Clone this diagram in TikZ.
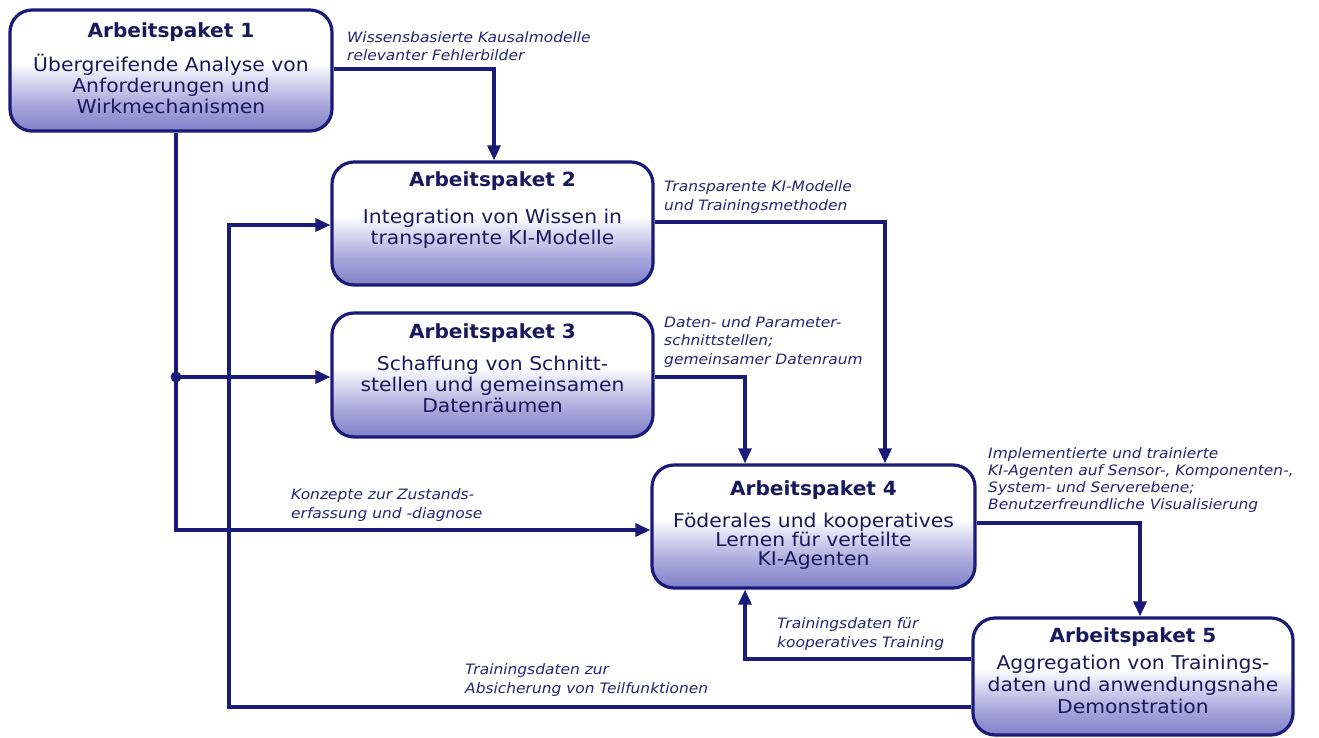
\documentclass[tikz,border=0pt]{standalone}
\usepackage{fontspec}
\setmainfont{DejaVu Sans}
\newfontfamily\aptitlefont{DejaVu Sans Bold}[FakeStretch=1.03]
\newfontfamily\apbodyfont{DejaVu Sans}[FakeStretch=1.07]
\newfontfamily\aplabelfont{DejaVu Sans Oblique}[FakeStretch=1.08]
\usetikzlibrary{arrows.meta}

\definecolor{apline}{RGB}{26,26,120}
\definecolor{aptext}{RGB}{24,24,92}
\definecolor{aplabel}{RGB}{36,36,116}
\definecolor{apB}{RGB}{128,128,200}
\definecolor{apC}{RGB}{168,168,220}
\definecolor{apM}{RGB}{222,222,243}

% box fill: white upper half fading into lavender at the bottom
\pgfdeclareverticalshading{apshade}{100bp}{color(0bp)=(apB); color(25bp)=(apB); color(36bp)=(apC); color(47bp)=(apM); color(53bp)=(white); color(100bp)=(white)}

\tikzset{
  apbox/.style={draw=apline, line width=3.2pt, rounded corners=22pt,
    shading=apshade, inner sep=0pt},
  aptitle/.style={text=aptext, font=\fontsize{19.5}{21}\aptitlefont, inner sep=0pt},
  apbody/.style={text=aptext, align=center, font=\fontsize{19}{21}\apbodyfont, inner sep=0pt},
  aplbl/.style={text=aplabel, align=left, anchor=west,
    font=\fontsize{14.3}{18.5}\aplabelfont, inner sep=0pt},
  conn/.style={draw=apline, line width=3.2pt},
  arr/.style={conn, -{Triangle[length=15pt,width=13pt]}},
}

\begin{document}
\begin{tikzpicture}[x=1pt,y=-1pt]
\useasboundingbox (0,0) rectangle (1319,738);

% work package boxes
\node[apbox, minimum width=322pt, minimum height=121pt] (ap1) at (171,70.5) {};
\node[apbox, minimum width=321pt, minimum height=123pt] (ap2) at (492.5,223.5) {};
\node[apbox, minimum width=321pt, minimum height=124pt] (ap3) at (492.5,375) {};
\node[apbox, minimum width=323pt, minimum height=123pt] (ap4) at (813.5,526.5) {};
\node[apbox, minimum width=320pt, minimum height=117pt] (ap5) at (1133,676.5) {};

% box texts
\node[aptitle] (ap1t) at (171,32) {Arbeitspaket 1};
\node[apbody]  (ap1b) at (171,84) {Übergreifende Analyse von\\Anforderungen und\\Wirkmechanismen};
\node[aptitle] (ap2t) at (492.5,181) {Arbeitspaket 2};
\node[apbody]  (ap2b) at (492.5,229) {Integration von Wissen in\\transparente KI-Modelle};
\node[aptitle] (ap3t) at (492.5,333) {Arbeitspaket 3};
\node[apbody]  (ap3b) at (492.5,384) {Schaffung von Schnitt-\\stellen und gemeinsamen\\Datenräumen};
\node[aptitle] (ap4t) at (813.5,490) {Arbeitspaket 4};
\node[apbody, font=\fontsize{19}{19}\apbodyfont] (ap4b) at (813.5,541) {Föderales und kooperatives\\Lernen für verteilte\\KI-Agenten};
\node[aptitle] (ap5t) at (1133,637) {Arbeitspaket 5};
\node[apbody, font=\fontsize{19}{22}\apbodyfont] (ap5b) at (1133,684) {Aggregation von Trainings-\\daten und anwendungsnahe\\Demonstration};

% bend points of the connectors
\coordinate (b1) at (494,69);
\coordinate (j)  at (176,377);
\coordinate (b2) at (176,530);
\coordinate (b3) at (885,222);
\coordinate (b4) at (745,377);
\coordinate (b5) at (1140,523);
\coordinate (b6) at (745,659);
\coordinate (b7) at (229,707);
\coordinate (b8) at (229,225);

% connectors
\draw[arr] (ap1.east |- b1) -- (b1) -- (b1 |- ap2.north);
\draw[arr] (ap1.south -| b2) -- (b2) -- (b2 -| ap4.west);
\draw[arr] (j) -- (j -| ap3.west);
\fill[apline] (j) circle (5.5pt);
\draw[arr] (ap2.east |- b3) -- (b3) -- (b3 |- ap4.north);
\draw[arr] (ap3.east |- b4) -- (b4) -- (b4 |- ap4.north);
\draw[arr] (ap4.east |- b5) -- (b5) -- (b5 |- ap5.north);
\draw[arr] (ap5.west |- b6) -- (b6) -- (b6 |- ap4.south);
\draw[arr] (ap5.west |- b7) -- (b7) -- (b8) -- (b8 -| ap2.west);

% connector labels
\node[aplbl] (l1) at (347,46)  {Wissensbasierte Kausalmodelle\\relevanter Fehlerbilder};
\node[aplbl] (l2) at (664,197) {Transparente KI-Modelle\\und Trainingsmethoden};
\node[aplbl] (l3) at (664,342) {Daten- und Parameter-\\schnittstellen;\\gemeinsamer Datenraum};
\node[aplbl] (l4) at (291,505) {Konzepte zur Zustands-\\erfassung und -diagnose};
\node[aplbl, font=\fontsize{14.3}{17}\aplabelfont] (l5) at (988,480) {Implementierte und trainierte\\KI-Agenten auf Sensor-, Komponenten-,\\System- und Serverebene;\\Benutzerfreundliche Visualisierung};
\node[aplbl] (l6) at (777,634) {Trainingsdaten für\\kooperatives Training};
\node[aplbl] (l7) at (465,680) {Trainingsdaten zur\\Absicherung von Teilfunktionen};
\end{tikzpicture}
\end{document}
